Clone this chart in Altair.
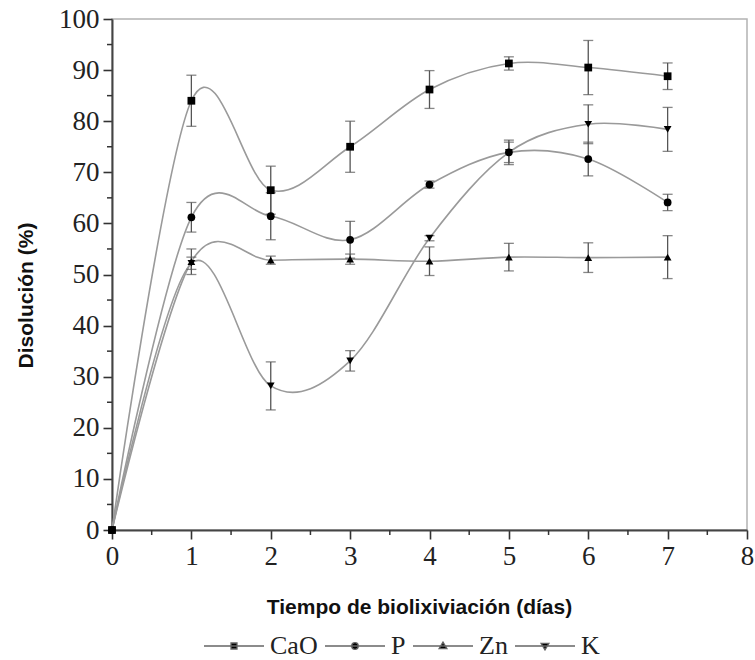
import altair as alt
import pandas as pd

# Dissolution (%) per day of bioleaching, with standard deviation
days = [0, 1, 2, 3, 4, 5, 6, 7]
series_names = ["CaO", "P", "Zn", "K"]

cao = [0, 84.0, 66.5, 75.0, 86.2, 91.3, 90.5, 88.8]
cao_err = [0, 5.0, 4.7, 5.0, 3.7, 1.3, 5.3, 2.6]
p = [0, 61.2, 61.4, 56.8, 67.6, 73.9, 72.6, 64.1]
p_err = [0, 2.9, 4.6, 3.6, 0.7, 2.4, 3.3, 1.6]
zn = [0, 52.5, 52.8, 53.0, 52.6, 53.4, 53.3, 53.4]
zn_err = [0, 2.5, 0.8, 1.0, 2.8, 2.7, 2.9, 4.2]
k = [0, 52.2, 28.2, 33.1, 57.1, 73.9, 79.4, 78.4]
k_err = [0, 1.2, 4.7, 2.0, 0.5, 2.0, 3.8, 4.3]

x_ticks = [0, 1, 2, 3, 4, 5, 6, 7, 8]
x_minor = [0.5, 1.5, 2.5, 3.5, 4.5, 5.5, 6.5, 7.5]
y_ticks = [0, 10, 20, 30, 40, 50, 60, 70, 80, 90, 100]
y_minor = [5, 15, 25, 35, 45, 55, 65, 75, 85, 95]

marker_shapes = ["square", "circle", "triangle-up", "triangle-down"]
# legend glyphs: a short line with the marker in the middle (units of half the symbol width)
legend_shapes = [
    "M-1,0L1,0M-0.1,-0.1L0.1,-0.1L0.1,0.1L-0.1,0.1Z",
    "M-1,0L1,0M0.11,0A0.11,0.11,0,1,1,-0.11,0A0.11,0.11,0,1,1,0.11,0Z",
    "M-1,0L1,0M0,-0.13L0.13,0.09L-0.13,0.09Z",
    "M-1,0L1,0M0,0.13L0.13,-0.09L-0.13,-0.09Z",
]

rows = []
for name, vals, errs in zip(series_names, [cao, p, zn, k], [cao_err, p_err, zn_err, k_err]):
    for d, v, e in zip(days, vals, errs):
        rows.append({"dia": d, "serie": name, "valor": v, "lo": v - e, "hi": v + e})
df = pd.DataFrame(rows)
err_df = df[df["dia"] > 0]

W, H = 635, 511
SERIF = "Liberation Serif"
SANS = "Liberation Sans"

x_scale = alt.Scale(domain=[0, 8], nice=False, zero=False)
y_scale = alt.Scale(domain=[0, 100], nice=False)

x_axis = alt.Axis(
    values=x_ticks, format="d", title="Tiempo de biolixiviación (días)",
    labelFont=SERIF, labelFontSize=27, labelFlush=False,
    labelPadding=4, titlePadding=27, titleX=307,
)
y_axis = alt.Axis(
    values=y_ticks, format="d", title="Disolución (%)",
    labelFont=SERIF, labelFontSize=27, labelFlush=False,
    labelPadding=4, titlePadding=22, titleY=276,
)

base = alt.Chart(df)

curves = base.mark_line(interpolate="cardinal", color="#9a9a9a", strokeWidth=1.6).encode(
    x=alt.X("dia:Q", scale=x_scale, axis=x_axis),
    y=alt.Y("valor:Q", scale=y_scale, axis=y_axis),
    detail="serie:N",
)

bars = alt.Chart(err_df).mark_rule(color="#555555", strokeWidth=1.3).encode(
    x="dia:Q", y="lo:Q", y2="hi:Q",
)
caps_hi = alt.Chart(err_df).mark_tick(
    color="#555555", orient="horizontal", size=10, thickness=1.3
).encode(x="dia:Q", y="hi:Q")
caps_lo = alt.Chart(err_df).mark_tick(
    color="#555555", orient="horizontal", size=10, thickness=1.3
).encode(x="dia:Q", y="lo:Q")

points = base.mark_point(filled=True, color="black", size=60, opacity=1).encode(
    x="dia:Q",
    y="valor:Q",
    shape=alt.Shape(
        "serie:N",
        scale=alt.Scale(domain=series_names, range=marker_shapes),
        legend=None,
    ),
)

legend_layer = base.transform_filter("datum.dia < 0").mark_point(
    filled=False, fill="black", stroke="#666666", strokeWidth=1.3, opacity=1
).encode(
    x="dia:Q",
    y="valor:Q",
    shape=alt.Shape(
        "serie:N",
        scale=alt.Scale(domain=series_names, range=legend_shapes),
        legend=alt.Legend(
            title=None, orient="none", direction="horizontal",
            legendX=91, legendY=596,
            symbolSize=3600, symbolStrokeWidth=1.3,
            labelFont=SERIF, labelFontSize=26, labelColor="#222222",
            labelOffset=5, columnPadding=4,
        ),
    ),
)

minor_y = alt.Chart(pd.DataFrame({"v": y_minor})).mark_rule(
    color="#333333", strokeWidth=1.5
).encode(y=alt.Y("v:Q", scale=y_scale), x=alt.value(-5), x2=alt.value(0))

minor_x = alt.Chart(pd.DataFrame({"v": x_minor})).mark_rule(
    color="#333333", strokeWidth=1.5
).encode(x=alt.X("v:Q", scale=x_scale), y=alt.value(H), y2=alt.value(H + 5))

chart = (
    alt.layer(curves, bars, caps_hi, caps_lo, points, legend_layer, minor_y, minor_x)
    .resolve_scale(shape="independent")
    .properties(
        width=W, height=H,
        autosize=alt.AutoSizeParams(type="none"),
        padding={"left": 112, "top": 19, "right": 8, "bottom": 130},
        background="white",
    )
    .configure_view(stroke="#b3b3b3", strokeWidth=1.5)
    .configure_axis(
        grid=False,
        domainColor="#444444", domainWidth=2,
        tickColor="#333333", tickWidth=1.6, tickSize=9,
        labelFont=SERIF, labelFontSize=27, labelColor="#222222",
        titleFont=SANS, titleFontSize=21, titleFontWeight="bold", titleColor="#111111",
    )
)

chart.save("out.html", embed_options={"renderer": "svg", "actions": False})
